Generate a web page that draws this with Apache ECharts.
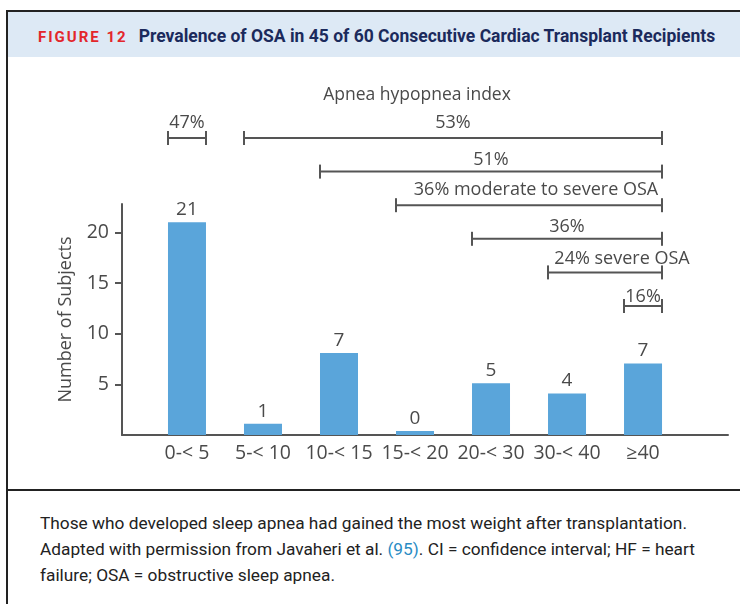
<!DOCTYPE html>
<html>
<head>
<meta charset="utf-8">
<script src="https://cdn.jsdelivr.net/npm/echarts@6/dist/echarts.min.js"></script>
<style>
  html, body { margin: 0; padding: 0; background: #fff; }
  body { width: 740px; height: 604px; overflow: hidden; position: relative; }
  .frame {
    position: absolute; left: 6px; top: 10px; width: 760px; height: 620px;
    border-left: 2px solid #222; border-top: 2px solid #222;
  }
  .header {
    position: absolute; left: 8px; top: 12px; width: 740px; height: 45px;
    background: #dde9f5;
    font-family: Roboto, sans-serif; font-weight: bold; font-size: 17.5px;
    line-height: 48px; color: #1b2a5c; white-space: nowrap;
  }
  .header .fig { color: #e3262b; letter-spacing: 2px; margin-left: 30px; margin-right: 11px; font-size: 15px; }
  .sep { position: absolute; left: 8px; top: 489px; width: 740px; height: 2px; background: #222; }
  .caption {
    position: absolute; left: 40px; top: 510px; width: 700px; white-space: nowrap;
    font-family: Roboto, sans-serif; font-size: 17.3px; line-height: 26px; color: #222;
  }
  .caption .ref { color: #2a8cc4; }
  #chart { position: absolute; left: 0; top: 0; width: 740px; height: 604px; }
</style>
</head>
<body>
<div class="frame"></div>
<div class="header"><span class="fig">FIGURE 12</span>Prevalence of OSA in 45 of 60 Consecutive Cardiac Transplant Recipients</div>
<div class="sep"></div>
<div class="caption">Those who developed sleep apnea had gained the most weight after transplantation.<br>Adapted with permission from Javaheri et al. <span class="ref">(95)</span>. CI = confidence interval; HF = heart<br>failure; OSA = obstructive sleep apnea.</div>
<div id="chart"></div>
<script>
// apnea hypopnea index groups
const categories = ['0-< 5', '5-< 10', '10-< 15', '15-< 20', '20-< 30', '30-< 40', '≥40'];
// number of subjects as printed above each bar
const subjects = [21, 1, 7, 0, 5, 4, 7];
// bar heights as they are drawn in the figure (10-< 15 is drawn taller than its label)
const barHeights = [21, 1.1, 8.1, 0.4, 5.1, 4.1, 7.05];
const yTicks = [5, 10, 15, 20];

// percentage brackets: first and last group covered, and row (top to bottom)
const bracketLabels = ['47%', '53%', '51%', '36% moderate to severe OSA', '36%', '24% severe OSA', '16%'];
const bracketFrom = [0, 1, 2, 3, 4, 5, 6];
const bracketTo = [0, 6, 6, 6, 6, 6, 6];
const bracketRow = [0, 0, 1, 2, 3, 4, 5];

// text nudges for bracket labels (px)
const labelShiftX = [0, 0, 0, 7, 0, 17, 0];
const labelShiftY = [0, 0, 3, 0, 3, 1, 6];

const textColor = '#4a4a4a';
const axisColor = '#555';
const font = 'Open Sans';

const chart = echarts.init(document.getElementById('chart'));

const option = {
  backgroundColor: 'transparent',
  animation: false,
  title: {
    text: 'Apnea hypopnea index',
    left: 412,
    top: 81,
    textAlign: 'center',
    textStyle: { fontFamily: font, fontSize: 17.5, fontWeight: 'normal', color: textColor }
  },
  grid: [
    { left: 122, right: 12, top: 204, bottom: 169 },
    { left: 122, right: 12, top: 138, height: 168 }
  ],
  xAxis: [
    {
      type: 'value',
      min: -0.855,
      max: 7.118,
      splitLine: { show: false },
      axisTick: { show: false },
      axisLine: { show: true, lineStyle: { color: axisColor, width: 2 } },
      axisLabel: {
        customValues: categories.map((c, i) => i),
        formatter: v => categories[Math.round(v)],
        color: textColor,
        fontFamily: font,
        fontSize: 19.5,
        margin: 8
      }
    },
    { type: 'value', gridIndex: 1, min: -0.855, max: 7.118, show: false }
  ],
  yAxis: [
    {
      type: 'value',
      min: 0,
      max: 22.8,
      interval: 5,
      name: 'Number of Subjects',
      nameLocation: 'middle',
      nameGap: 47,
      nameTextStyle: { fontFamily: font, fontSize: 18, color: textColor },
      splitLine: { show: false },
      axisLine: { show: true, onZero: false, lineStyle: { color: axisColor, width: 2 } },
      axisTick: { show: true, customValues: yTicks, length: 7, lineStyle: { color: axisColor, width: 2 } },
      axisLabel: { customValues: yTicks, color: textColor, fontFamily: font, fontSize: 19.5, margin: 13 }
    },
    { type: 'value', gridIndex: 1, min: 0, max: 5, inverse: true, show: false }
  ],
  series: [
    {
      type: 'bar',
      data: barHeights.map((v, i) => [i, v]),
      barWidth: 38,
      itemStyle: { color: '#5aa5da' },
      label: {
        show: true,
        position: 'top',
        distance: 3,
        formatter: p => String(subjects[p.dataIndex]),
        color: textColor,
        fontFamily: font,
        fontSize: 19
      }
    },
    {
      type: 'custom',
      xAxisIndex: 1,
      yAxisIndex: 1,
      clip: false,
      data: bracketLabels.map((l, i) => [bracketFrom[i], bracketTo[i], bracketRow[i], i]),
      renderItem: (params, api) => {
        const i = api.value(3);
        const a = api.coord([api.value(0) - 0.25, api.value(2)]);
        const b = api.coord([api.value(1) + 0.25, api.value(2)]);
        const y = a[1];
        const cap = 7;
        const ls = { stroke: axisColor, lineWidth: 2 };
        return {
          type: 'group',
          children: [
            { type: 'line', shape: { x1: a[0], y1: y, x2: b[0], y2: y }, style: ls },
            { type: 'line', shape: { x1: a[0], y1: y - cap, x2: a[0], y2: y + cap }, style: ls },
            { type: 'line', shape: { x1: b[0], y1: y - cap, x2: b[0], y2: y + cap }, style: ls },
            {
              type: 'text',
              x: (a[0] + b[0]) / 2 + labelShiftX[i],
              y: y - 6 + labelShiftY[i],
              style: {
                text: bracketLabels[i],
                align: 'center',
                verticalAlign: 'bottom',
                fontFamily: font,
                fontSize: 18,
                fill: textColor
              }
            }
          ]
        };
      }
    }
  ]
};

chart.setOption(option);
</script>
</body>
</html>
